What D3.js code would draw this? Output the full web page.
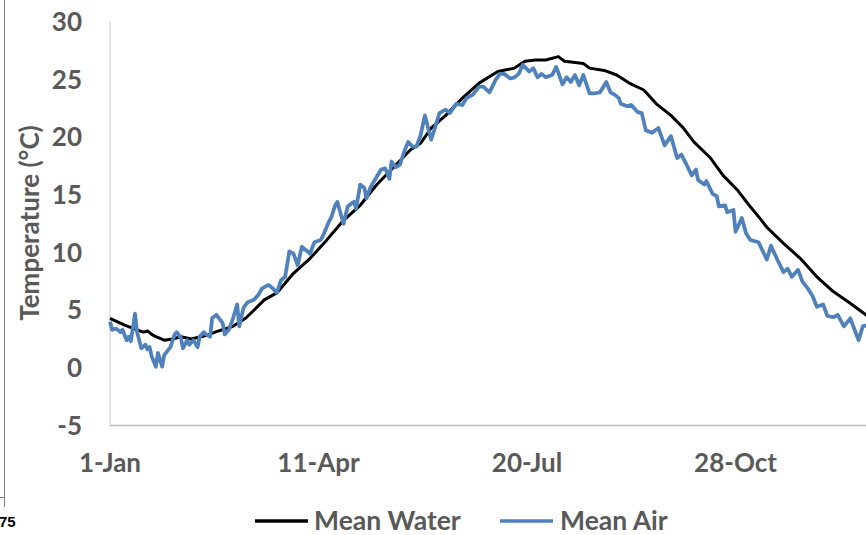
<!DOCTYPE html>
<html><head><meta charset="utf-8">
<script src="https://cdn.jsdelivr.net/npm/d3@7"></script>
<style>body{margin:0;background:#fff;overflow:hidden}svg{display:block}</style>
</head><body><svg id="c" width="866" height="535"></svg>
<script>
const waterDays = [1,8,14,17,19,21,23,27,31,35,40,47,53,60,66,70,75,81,89,97,105,113,121,129,137,145,150,155,162,170,178,187,195,200,205,210,216,219,228,231,238,244,250,257,263,270,276,281,289,295,302,308,313,316,324,332,340,348,356,362,365];
const waterTemp = [4.3,3.7,3.3,3.1,3.2,2.9,2.7,2.4,2.5,2.7,2.5,2.8,3.2,3.6,4.3,5.0,5.9,6.5,8.2,9.5,11.1,12.8,14.1,15.9,17.4,18.9,19.5,20.8,21.9,23.4,24.7,25.7,26.0,26.6,26.7,26.7,27.0,26.6,26.4,26.0,25.8,25.4,24.7,24.1,22.9,21.9,20.8,19.6,18.2,16.7,15.4,14.0,12.9,12.2,10.8,9.5,7.9,6.6,5.6,4.8,4.4];
const airDays = [1,2,4,6,7,9,10,11,13,14,16,18,19,20,21,23,24,26,27,30,32,33,35,36,38,39,41,43,44,46,47,49,50,52,55,56,58,60,62,63,65,67,70,72,74,77,79,81,83,85,87,89,91,93,95,97,99,102,103,106,107,109,110,113,115,118,119,121,123,124,126,129,131,133,135,136,138,140,142,144,146,148,150,152,155,157,159,162,164,167,170,172,175,178,180,183,186,188,190,193,195,197,199,202,204,206,208,210,213,215,218,220,222,224,226,228,231,233,236,239,241,243,245,246,249,251,254,256,258,261,264,267,270,273,275,277,280,282,283,286,287,290,292,293,296,297,300,301,304,306,308,312,316,318,321,324,326,328,331,333,336,338,340,343,345,348,350,353,356,360,362,364,365];
const airTemp = [4.0,3.3,3.4,3.1,3.3,2.4,2.7,2.3,4.7,3.1,1.7,2.0,1.6,1.8,1.0,0.1,1.3,0.1,1.1,1.8,2.9,3.1,2.6,1.7,2.4,2.0,2.4,1.8,2.7,3.1,2.9,2.7,4.3,4.6,3.9,2.9,3.3,4.3,5.5,3.6,5.2,5.7,5.9,6.3,6.9,7.2,6.9,6.5,7.6,7.9,10.1,9.9,8.9,10.5,10.2,9.9,10.9,11.1,11.4,12.7,13.0,14.1,14.4,12.5,14.0,14.4,13.8,15.9,15.6,14.7,15.7,16.6,17.2,17.3,16.4,17.9,17.4,17.6,18.7,19.6,19.2,19.2,20.2,21.9,19.8,20.9,22.1,22.4,22.1,22.9,22.8,23.4,23.7,24.4,24.4,23.9,25.0,25.5,25.5,25.1,25.2,25.5,26.3,25.7,26.0,25.2,25.5,25.2,25.4,26.1,24.6,25.2,24.8,25.4,24.5,25.4,23.8,23.8,23.9,24.8,23.9,23.7,23.4,22.9,22.7,22.8,22.2,22.1,20.6,20.4,20.8,19.3,20.1,18.2,18.5,17.8,16.7,17.2,16.3,15.9,16.2,15.1,14.9,14.0,14.1,13.5,13.7,11.8,13.0,11.7,11.1,10.9,9.4,10.6,9.4,8.3,8.6,7.9,8.5,7.5,6.8,6.2,5.3,5.5,4.5,4.4,4.6,3.6,4.3,2.4,3.6,3.7,3.7];
const yTicks = [-5,0,5,10,15,20,25,30];
const xTickDays = [1,101,201,301];
const xTickLabels = ["1-Jan","11-Apr","20-Jul","28-Oct"];
const seriesNames = ["Mean Water","Mean Air"];
const seriesColors = ["#000000","#4f81bd"];

const svg = d3.select("#c");
const font = "Lato, 'Open Sans', sans-serif";
const x = d3.scaleLinear().domain([1,365]).range([110,869]);
const y = d3.scaleLinear().domain([-5,30]).range([425.5,22]);

// outer artefacts at left edge
svg.append("line").attr("x1",4.5).attr("x2",4.5).attr("y1",0).attr("y2",507).attr("stroke","#7f7f7f").attr("stroke-width",1);
svg.append("line").attr("x1",0).attr("x2",4.5).attr("y1",497.5).attr("y2",497.5).attr("stroke","#7f7f7f").attr("stroke-width",1);
svg.append("text").attr("x",-1).attr("y",527).attr("font-family","Liberation Sans, Arial, sans-serif").attr("font-weight","bold").attr("font-size",15).attr("fill","#000").text("75");

// axes lines
svg.append("line").attr("x1",x(1)).attr("x2",x(1)).attr("y1",y(30)).attr("y2",y(-5)).attr("stroke","#d9d9d9").attr("stroke-width",1.5);
svg.append("line").attr("x1",x(1)).attr("x2",866).attr("y1",y(-5)).attr("y2",y(-5)).attr("stroke","#bfbfbf").attr("stroke-width",1.5);

// y tick labels
svg.append("g").selectAll("text").data(yTicks).join("text")
  .attr("x",82).attr("y",d=>y(d)+9).attr("text-anchor","end")
  .attr("font-family",font).attr("font-weight","bold").attr("font-size",26).attr("fill","#595959")
  .text(d=>d);

// x tick labels
svg.append("g").selectAll("text").data(xTickDays).join("text")
  .attr("x",d=>x(d)).attr("y",472).attr("text-anchor","middle")
  .attr("font-family",font).attr("font-weight","bold").attr("font-size",26).attr("fill","#595959")
  .text((d,i)=>xTickLabels[i]);

// y title
svg.append("text").attr("transform","translate(39,223) rotate(-90)").attr("text-anchor","middle")
  .attr("font-family",font).attr("font-weight","bold").attr("font-size",26).attr("fill","#595959")
  .text("Temperature (°C)");

const line = d3.line().x(d=>x(d[0])).y(d=>y(d[1])).curve(d3.curveLinear);
const water = waterDays.map((d,i)=>[d,waterTemp[i]]);
const air = airDays.map((d,i)=>[d,airTemp[i]]);
svg.append("path").datum(water).attr("d",line).attr("fill","none").attr("stroke",seriesColors[0]).attr("stroke-width",3).attr("stroke-linejoin","round");
svg.append("path").datum(air).attr("d",line).attr("fill","none").attr("stroke",seriesColors[1]).attr("stroke-width",3.75).attr("stroke-linejoin","round");

// legend
const lg = [{x1:255,x2:308,tx:314},{x1:500,x2:553,tx:560}];
lg.forEach((p,i)=>{
  svg.append("line").attr("x1",p.x1).attr("x2",p.x2).attr("y1",521).attr("y2",521).attr("stroke",seriesColors[i]).attr("stroke-width",3.5);
  svg.append("text").attr("x",p.tx).attr("y",529.5).attr("font-family",font).attr("font-weight","bold").attr("font-size",26.5).attr("fill","#595959").text(seriesNames[i]);
});
</script></body></html>
